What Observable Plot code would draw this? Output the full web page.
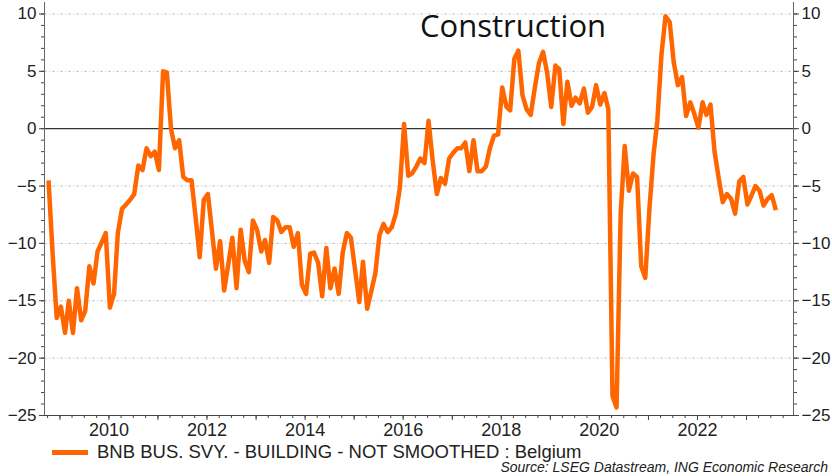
<!DOCTYPE html>
<html><head><meta charset="utf-8">
<script src="https://cdn.jsdelivr.net/npm/d3@7"></script>
<script src="https://cdn.jsdelivr.net/npm/@observablehq/plot@0.6"></script>
<style>
body{margin:0;background:#fff;}
#wrap{position:relative;width:832px;height:476px;overflow:hidden;font-family:"Liberation Sans",Arial,sans-serif;color:#222;}
#wrap svg{position:absolute;left:0;top:0;z-index:0;}
#title{position:absolute;left:420px;top:4px;z-index:2;font-family:"Open Sans",sans-serif;font-size:31px;color:#111;white-space:nowrap;}
#legend{position:absolute;left:52px;top:441px;z-index:2;display:flex;align-items:center;font-size:18.5px;white-space:nowrap;}
#legend .sw{width:36px;height:5px;background:#ff6600;margin-right:9px;}
#source{position:absolute;right:4px;top:459px;z-index:2;font-size:14px;font-style:italic;white-space:nowrap;}
</style></head><body><div id="wrap"><div id="title"></div><div id="legend"><span class="sw"></span><span id="legtext"></span></div><div id="source"></div></div>
<script>
// Monthly series, first observation Oct 2008
const startYear = 2008, startMonthIndex = 9;
const values = [
 -4.5,-11.0,-16.5,-15.5,-17.8,-15.0,-17.8,-13.9,-16.7,-15.9,
 -12.0,-13.5,-10.7,-9.9,-9.1,-15.6,-14.4,-9.1,-7.0,-6.6,
 -6.2,-5.7,-3.2,-3.6,-1.7,-2.4,-2.0,-3.6,5.0,4.9,
 0.0,-1.7,-1.0,-4.2,-4.5,-4.5,-7.7,-11.2,-6.2,-5.7,
 -9.0,-12.2,-9.8,-14.1,-11.8,-9.5,-13.9,-8.8,-11.5,-12.5,
 -8.0,-8.8,-10.7,-9.7,-11.7,-7.7,-8.0,-9.0,-8.6,-8.6,
 -10.3,-9.1,-13.6,-14.4,-10.9,-10.8,-11.7,-14.6,-10.4,-13.9,
 -12.2,-14.4,-10.8,-9.1,-9.5,-12.3,-15.1,-11.6,-15.7,-14.2,
 -12.6,-9.3,-8.3,-9.0,-8.6,-7.4,-5.1,0.4,-4.1,-3.9,
 -3.3,-2.6,-3.0,0.7,-2.8,-5.7,-4.3,-4.8,-2.6,-2.1,
 -1.7,-1.7,-1.2,-3.7,-1.0,-3.7,-3.7,-3.3,-1.7,-0.6,
 -0.5,3.6,1.9,1.6,6.1,6.8,2.9,1.7,1.2,3.6,
 5.7,6.7,4.9,1.9,5.5,5.2,0.4,4.1,2.0,2.7,
 2.2,3.5,1.4,1.9,3.8,2.1,3.1,1.7,-23.3,-24.3,
 -7.4,-1.5,-5.4,-3.9,-4.2,-12.0,-13.0,-7.0,-2.2,0.7,
 6.5,9.8,9.3,5.8,3.8,4.5,1.1,2.3,1.3,0.1,
 2.3,1.2,2.1,-2.0,-4.3,-6.4,-5.7,-6.1,-7.4,-4.6,
 -4.2,-6.6,-5.8,-5.0,-5.4,-6.7,-6.1,-5.8,-7.1
];
const yLabelTicks = [-25,-20,-15,-10,-5,0,5,10];
const gridLevels = [-20,-15,-10,-5,5,10];
const yearLabels = [2010,2012,2014,2016,2018,2020,2022];
const titleText = "Construction";
const seriesName = "BNB BUS. SVY. - BUILDING - NOT SMOOTHED : Belgium";
const sourceText = "Source: LSEG Datastream, ING Economic Research";
const lineColor = "#ff6600";

const data = values.map((v, i) => ({date: new Date(Date.UTC(startYear, startMonthIndex + i, 8)), value: v}));
const xDomain = [new Date(Date.UTC(2008, 8, 8)), new Date(Date.UTC(2023, 11, 17))];
const minorY = d3.range(-25, 11);
const quarterTicks = d3.utcMonth.every(3).range(xDomain[0], xDomain[1]);
const yearTicks = d3.utcYear.range(xDomain[0], xDomain[1]);
const labelTicks = yearLabels.map(y => new Date(Date.UTC(y, 0, 1)));

const chart = Plot.plot({
  width: 832, height: 442,
  marginLeft: 44, marginRight: 39, marginTop: 2, marginBottom: 27,
  style: {fontFamily: "'Liberation Sans', Arial, sans-serif", background: "transparent", color: "#222"},
  x: {type: "utc", domain: xDomain, label: null},
  y: {domain: [-25, 11], label: null},
  marks: [
    Plot.ruleY(gridLevels, {stroke: "#c4c4c4", strokeWidth: 1, strokeDasharray: "3,2,1,2"}),
    Plot.ruleY([0], {stroke: "#333", strokeWidth: 1.2}),
    Plot.axisY(minorY, {anchor: "left", tickSize: 3, text: null, label: null, stroke: "#444"}),
    Plot.axisY(minorY, {anchor: "right", tickSize: 3, text: null, label: null, stroke: "#444"}),
    Plot.axisY(yLabelTicks, {anchor: "left", tickSize: 5, tickPadding: 3, label: null, fontSize: 17, stroke: "#444", fill: "#222"}),
    Plot.axisY(yLabelTicks, {anchor: "right", tickSize: 5, tickPadding: 3, label: null, fontSize: 17, stroke: "#444", fill: "#222"}),
    Plot.axisX(quarterTicks, {anchor: "bottom", tickSize: 3, text: null, label: null, stroke: "#444"}),
    Plot.axisX(yearTicks, {anchor: "bottom", tickSize: 5, text: null, label: null, stroke: "#444"}),
    Plot.axisX(labelTicks, {anchor: "bottom", tickSize: 0, tickPadding: 8, label: null, fontSize: 18, fill: "#222", tickFormat: d3.utcFormat("%Y")}),
    Plot.frame({anchor: "left", stroke: "#666"}),
    Plot.frame({anchor: "right", stroke: "#666"}),
    Plot.frame({anchor: "bottom", stroke: "#444"}),
    Plot.lineY(data, {x: "date", y: "value", stroke: lineColor, strokeWidth: 4.5, strokeLinejoin: "round", strokeLinecap: "butt"})
  ]
});
document.getElementById("wrap").prepend(chart);
document.getElementById("title").textContent = titleText;
document.getElementById("legtext").textContent = seriesName;
document.getElementById("source").textContent = sourceText;
</script></body></html>
